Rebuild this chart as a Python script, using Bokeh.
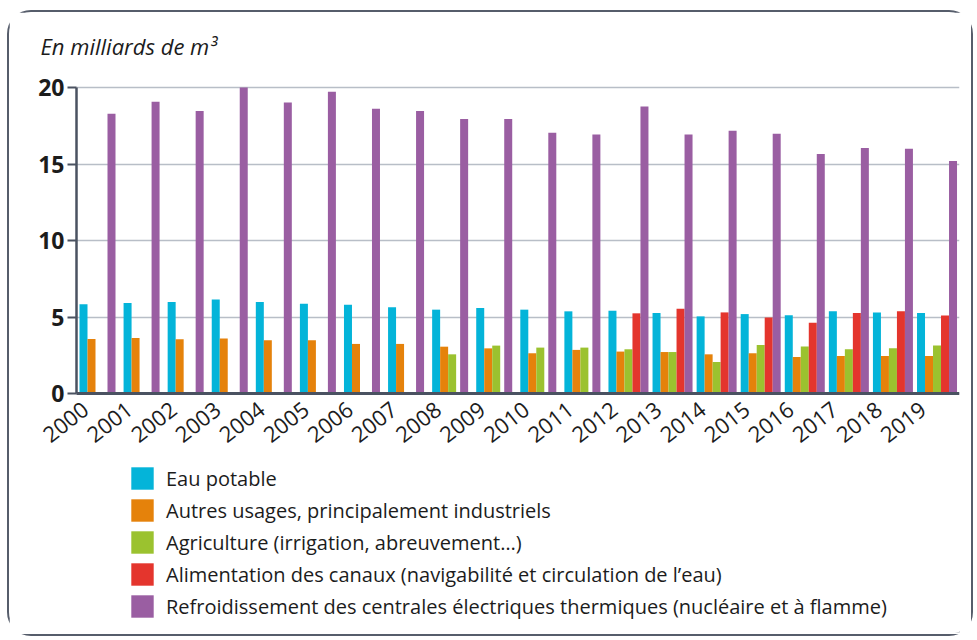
import math
import numpy as np
from bokeh.plotting import figure
from bokeh.models import (ColumnDataSource, Range1d, FixedTicker, Legend, LegendItem,
                          CustomJSTickFormatter)
from bokeh.embed import file_html
from bokeh.resources import INLINE

# ---- data (milliards de m3) ----
years = ["2000", "2001", "2002", "2003", "2004", "2005", "2006", "2007", "2008", "2009",
         "2010", "2011", "2012", "2013", "2014", "2015", "2016", "2017", "2018", "2019"]
eau_potable = [5.83, 5.91, 5.98, 6.15, 5.98, 5.87, 5.80, 5.63, 5.48, 5.59,
               5.48, 5.37, 5.41, 5.26, 5.04, 5.19, 5.11, 5.37, 5.30, 5.26]
autres_usages = [3.56, 3.63, 3.54, 3.59, 3.48, 3.48, 3.24, 3.24, 3.06, 2.95,
                 2.63, 2.85, 2.74, 2.71, 2.56, 2.63, 2.39, 2.45, 2.45, 2.45]
agriculture = [None, None, None, None, None, None, None, None, 2.56, 3.13,
               3.00, 3.00, 2.89, 2.71, 2.06, 3.17, 3.08, 2.89, 2.95, 3.13]
canaux = [None, None, None, None, None, None, None, None, None, None,
          None, None, 5.24, 5.54, 5.30, 4.96, 4.63, 5.26, 5.37, 5.09]
refroidissement = [18.28, 19.07, 18.46, 20.00, 19.02, 19.72, 18.61, 18.46, 17.94, 17.94,
                   17.04, 16.93, 18.76, 16.93, 17.17, 16.98, 15.65, 16.04, 16.00, 15.20]
y_ticks = [0, 5, 10, 15, 20]

labels = ["Eau potable",
          "Autres usages, principalement industriels",
          "Agriculture (irrigation, abreuvement\u2026)",
          "Alimentation des canaux (navigabilit\u00e9 et circulation de l\u2019eau)",
          "Refroidissement des centrales \u00e9lectriques thermiques (nucl\u00e9aire et \u00e0 flamme)"]
colors = ["#04b4d9", "#e5820b", "#9bc22f", "#e4352d", "#9a5ea2"]

FONT = "Open Sans"
TXT = "#1c1c1c"
AXIS = "#4a5261"

# ---- geometry helpers (pixels -> data units) ----
GROUP_PX = 44.08
BAR_PX = 8.0
bw = BAR_PX / GROUP_PX

def arr(v):
    return np.array([np.nan if x is None else x for x in v], dtype=float)

idx = np.arange(len(years), dtype=float)
has_canal = ~np.isnan(arr(canaux))

x_eau = idx - 16 / GROUP_PX
x_aut = idx - 8 / GROUP_PX
x_agr = idx + 0 / GROUP_PX
x_can = idx + 8 / GROUP_PX
x_ref = idx + np.where(has_canal, 16, 12) / GROUP_PX

W, H = 966, 626
FL, FR = 20, 950             # frame left/right (canvas px)
FT = 60                      # frame top (canvas px)
YTOP = 75                    # canvas row of the top tick value
AXIS_X = 67                  # canvas column of the value axis
FIRST_C = 90                 # canvas column of first group centre
Y0 = 381                     # canvas row of value 0
FBOT = 620                   # frame bottom (legend lives inside the frame)
ytop = y_ticks[-1]
pxu = (Y0 - YTOP) / ytop
ymin = -(FBOT - Y0) / pxu
ymax = ytop + (YTOP - FT) / pxu
x_start = -(FIRST_C - FL) / GROUP_PX
x_end = x_start + (FR - FL) / GROUP_PX
x_axis_pos = x_start + (AXIS_X - FL) / GROUP_PX

p = figure(width=W, height=H, output_backend="svg", toolbar_location=None,
           x_range=Range1d(x_start, x_end),
           y_range=Range1d(ymin, ymax),
           min_border_left=FL, min_border_right=W - FR,
           min_border_top=FT, min_border_bottom=H - FBOT)
p.styles = {"border": "2px solid #565d6b", "border-radius": "24px",
            "margin-left": "7px", "margin-top": "10px"}
p.outline_line_color = None
p.background_fill_color = "white"
p.border_fill_color = "white"

# title
p.title.text = "En milliards de m\u00b3"
p.title.text_font = FONT
p.title.text_font_style = "italic"
p.title.text_font_size = "22px"
p.title.text_color = TXT
p.title.align = "left"
p.title.offset = 11
p.title.standoff = 24

series = [(x_eau, eau_potable), (x_aut, autres_usages), (x_agr, agriculture),
          (x_can, canaux), (x_ref, refroidissement)]
renderers = []
for (xs, vals), c in zip(series, colors):
    src = ColumnDataSource(dict(x=xs, top=arr(vals)))
    r = p.vbar(x="x", top="top", bottom=0, width=bw, source=src,
               fill_color=c, line_color=None)
    renderers.append(r)

# grid
p.xgrid.grid_line_color = None
ygrid = p.ygrid[0]
if "cross_bounds" in ygrid.properties():
    ygrid.grid_line_color = "#b8bec7"
    ygrid.grid_line_width = 1.6
    ygrid.cross_bounds = (x_axis_pos, x_end)
else:
    ygrid.grid_line_color = None
    gy = [t for t in y_ticks if t > 0]
    p.segment(x0=[x_axis_pos] * len(gy), x1=[x_end] * len(gy), y0=gy, y1=gy,
              line_color="#b8bec7", line_width=1.6, level="underlay")

# value axis
p.yaxis.fixed_location = x_axis_pos
p.yaxis.ticker = FixedTicker(ticks=y_ticks)
p.yaxis.bounds = (0, ytop)
p.yaxis.axis_line_color = AXIS
p.yaxis.axis_line_width = 2.5
p.yaxis.major_tick_line_color = AXIS
p.yaxis.major_tick_line_width = 2
p.yaxis.major_tick_out = 9
p.yaxis.major_tick_in = 0
p.yaxis.minor_tick_line_color = None
p.yaxis.major_label_standoff = 3
p.yaxis.major_label_text_font = FONT
p.yaxis.major_label_text_font_style = "bold"
p.yaxis.major_label_text_font_size = "23px"
p.yaxis.major_label_text_color = TXT

# year axis (labels nudged left like the original)
LABEL_SHIFT = 14 / GROUP_PX
p.xaxis.fixed_location = 0
p.xaxis.bounds = (x_axis_pos, x_end)
p.xaxis.ticker = FixedTicker(ticks=list(idx - LABEL_SHIFT))
p.xaxis.formatter = CustomJSTickFormatter(args=dict(labels=years, shift=LABEL_SHIFT),
                                          code="return labels[Math.round(tick + shift)];")
p.xaxis.axis_line_color = AXIS
p.xaxis.axis_line_width = 3
p.xaxis.major_tick_line_color = None
p.xaxis.minor_tick_line_color = None
p.xaxis.major_tick_out = 0
p.xaxis.major_tick_in = 0
p.xaxis.major_label_standoff = 13
p.xaxis.major_label_orientation = math.radians(38)
p.xaxis.major_label_text_font = FONT
p.xaxis.major_label_text_font_size = "22px"
p.xaxis.major_label_text_color = TXT

legend = Legend(items=[LegendItem(label=l, renderers=[r]) for l, r in zip(labels, renderers)],
                location=(99, 12), orientation="vertical",
                glyph_width=28, glyph_height=28, label_height=28, spacing=4,
                label_standoff=10, padding=0, margin=0,
                border_line_color=None, background_fill_alpha=0,
                label_text_font=FONT, label_text_font_size="20px", label_text_color=TXT)
p.add_layout(legend, "center")

open("out.html", "w").write(file_html(p, INLINE))
